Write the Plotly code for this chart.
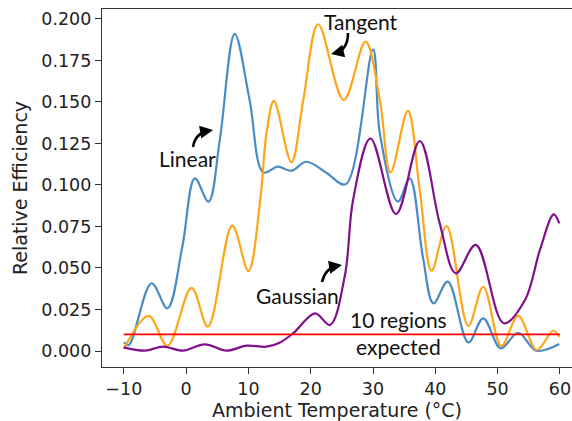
import plotly.graph_objects as go
import math

# ---- data ----
linear_T = [-10, -9.2, -5.55, -3.0, -0.6, 1.4, 3.6, 5.4, 7.8, 10.2, 12.4, 14.7, 16.9, 19.3, 22.5,
            25.6, 30.0, 31.1, 34.0, 35.9, 38.0, 39.7, 42.0, 45.3, 47.7, 50.5, 53.3, 56.2, 59.9]
linear_V = [0.0052, 0.0036, 0.0408, 0.0257, 0.063, 0.104, 0.090, 0.127, 0.191, 0.151, 0.1076, 0.111,
            0.1086, 0.114, 0.1074, 0.1004, 0.1817, 0.131, 0.090, 0.104, 0.0568, 0.0287, 0.0418,
            0.0052, 0.0197, 0.0016, 0.011, 0.0002, 0.0042]

tangent_T = [-10, -6.0, -3.0, 0.87, 3.5, 7.4, 10.0, 11.9, 12.9, 14.1, 16.9, 18.8, 21.2, 25.3, 28.8,
             31.1, 32.8, 35.6, 37.5, 39.4, 41.8, 45.3, 47.7, 50.6, 53.3, 56.3, 58.9, 59.9]
tangent_V = [0.0012, 0.0211, 0.0032, 0.038, 0.0147, 0.0755, 0.0482, 0.091, 0.131, 0.1506, 0.1137,
             0.151, 0.1968, 0.1512, 0.1863, 0.151, 0.1074, 0.1446, 0.097, 0.0484, 0.0753, 0.0151,
             0.0387, 0.003, 0.0211, 0.0006, 0.0122, 0.0086]

gauss_T = [-10, -6.6, -3.7, -0.5, 3.0, 6.5, 9.7, 12.9, 15.0, 17.2, 20.7, 23.1, 25.5, 26.8, 29.6,
           33.7, 37.5, 40.7, 43.3, 46.5, 51.0, 54.4, 56.8, 59.0, 59.9]
gauss_V = [0.0022, 0.0002, 0.0026, 0.0002, 0.004, 0.0002, 0.0032, 0.0026, 0.005, 0.0107, 0.0227,
           0.0157, 0.0458, 0.091, 0.128, 0.0825, 0.1265, 0.077, 0.0468, 0.0639, 0.0167,
           0.0307, 0.061, 0.0823, 0.0769]

regions_T = [-10, 60]
regions_V = [0.01, 0.01]

x_ticks = [-10, 0, 10, 20, 30, 40, 50, 60]
y_ticks = [0.0, 0.025, 0.05, 0.075, 0.1, 0.125, 0.15, 0.175, 0.2]

# ---- layout geometry ----
FW, FH = 572, 421
ML, MR, MT, MB = 102, 0, 9, 54
PW, PH = FW - ML - MR, FH - MT - MB
XR = [-13.5, 61.94]
YR = [-0.00964, 0.206]


def px(xp, yp):
    return (XR[0] + (xp - ML) / PW * (XR[1] - XR[0]),
            YR[1] - (yp - MT) / PH * (YR[1] - YR[0]))


fig = go.Figure()
line_w = 2.2
fig.add_trace(go.Scatter(x=linear_T, y=linear_V, mode="lines",
                         line=dict(color="#4a8cc4", width=line_w, shape="spline", smoothing=1.0)))
fig.add_trace(go.Scatter(x=tangent_T, y=tangent_V, mode="lines",
                         line=dict(color="#ffa51a", width=line_w, shape="spline", smoothing=1.0)))
fig.add_trace(go.Scatter(x=gauss_T, y=gauss_V, mode="lines",
                         line=dict(color="#80108c", width=line_w, shape="spline", smoothing=1.0)))
fig.add_trace(go.Scatter(x=regions_T, y=regions_V, mode="lines",
                         line=dict(color="#ff0000", width=1.8)))

TXT_FONT = dict(family="Lato, Open Sans, sans-serif", size=21, color="#111111")
texts = [("Tangent", 361, 21), ("Linear", 187, 158), ("Gaussian", 297, 295),
         ("10 regions<br>expected", 398, 333)]
annotations = []
for t, xp, yp in texts:
    x, y = px(xp, yp)
    annotations.append(dict(x=x, y=y, xref="x", yref="y", text=t, showarrow=False,
                            font=TXT_FONT, xanchor="center", yanchor="middle"))

arrows = [((348, 33), (348, 50), (331, 54)),
          ((193, 147), (195, 133), (213, 130)),
          ((322, 282), (325, 268), (342, 265))]
shapes = []
for (tx, ty), (cx, cy), (hx, hy) in arrows:
    dx, dy = hx - cx, hy - cy
    n = math.hypot(dx, dy)
    ux, uy = dx / n, dy / n
    ex, ey = hx - ux * 4, hy - uy * 4
    p0, pc, pe = px(tx, ty), px(cx, cy), px(ex, ey)
    shapes.append(dict(type="path", xref="x", yref="y",
                       path=f"M {p0[0]},{p0[1]} Q {pc[0]},{pc[1]} {pe[0]},{pe[1]}",
                       line=dict(color="black", width=2.6)))
    hxd, hyd = px(hx, hy)
    annotations.append(dict(x=hxd, y=hyd, xref="x", yref="y", text="", showarrow=True,
                            arrowhead=2, arrowsize=1.0, arrowwidth=2.6, arrowcolor="black",
                            ax=-ux * 8, ay=-uy * 8, axref="pixel", ayref="pixel", standoff=0))

TICK_FONT = dict(family="DejaVu Sans", size=17.5, color="#222222")
fig.update_layout(
    width=FW, height=FH,
    margin=dict(l=ML, r=MR, t=MT, b=MB, pad=0),
    paper_bgcolor="white", plot_bgcolor="white",
    showlegend=False,
    annotations=annotations, shapes=shapes,
    xaxis=dict(range=XR, tickvals=x_ticks, showgrid=False, zeroline=False,
               showline=True, linecolor="#333333", linewidth=1.2, mirror=True,
               ticks="outside", ticklen=6, tickwidth=1.2, tickcolor="#333333",
               tickfont=TICK_FONT, automargin=False,
               title=dict(text="Ambient Temperature (°C)", standoff=6,
                          font=dict(family="DejaVu Sans", size=19, color="#222222"))),
    yaxis=dict(range=YR, tickvals=y_ticks, tickformat=".3f", showgrid=False, zeroline=False,
               showline=True, linecolor="#333333", linewidth=1.2,
               ticks="outside", ticklen=6, tickwidth=1.2, tickcolor="#333333",
               tickfont=TICK_FONT, automargin=False,
               title=dict(text="Relative Efficiency", standoff=8,
                          font=dict(family="DejaVu Sans", size=19, color="#222222"))),
)

fig.write_html("out.html")
